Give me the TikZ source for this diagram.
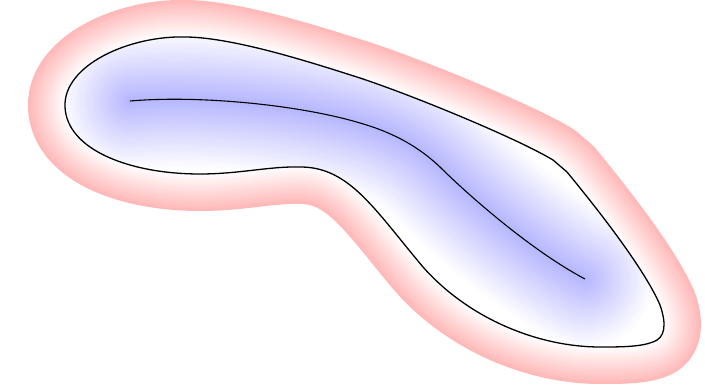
\documentclass[tikz,border=0pt]{standalone}
\begin{document}
\begin{tikzpicture}[x=1pt,y=-1pt]
\useasboundingbox (0,0) rectangle (705,387);
\def\bnd{(65,107) .. controls (63,65) and (130,35) .. (187,37)
  .. controls (235,38) and (310,62) .. (360,78)
  .. controls (420,98) and (520,140) .. (553,160)
  -- (567,172)
  .. controls (600,212) and (645,270) .. (660,305)
  .. controls (667,325) and (665,338) .. (653,342)
  .. controls (640,347) and (620,347) .. (600,347)
  .. controls (540,347) and (470,320) .. (423,267)
  .. controls (375,210) and (350,168) .. (302,167)
  .. controls (270,166) and (240,174) .. (200,174)
  .. controls (130,174) and (67,150) .. (65,107) -- cycle}
\def\spn{(130,101) .. controls (200,95) and (300,105) .. (360,123)
  .. controls (395,133) and (420,148) .. (440,167)
  .. controls (465,192) and (530,250) .. (585,279)}
% red glow
\foreach \i in {0,...,30}{
  \pgfmathsetmacro\w{2*(37-\i*37/30)}
  \pgfmathsetmacro\c{28*(1-\i/30)}
  \draw[line width=\w pt, red!\c!white, line join=round] \bnd;
}
\fill[white] \bnd;
% blue interior
\begin{scope}
  \clip \bnd;
  \foreach \i in {0,...,40}{
    \pgfmathsetmacro\w{2*(70-\i*68/40)}
    \pgfmathsetmacro\c{28*(\i/40)}
    \draw[line width=\w pt, blue!\c!white, line cap=round, line join=round] \spn;
  }
\end{scope}
\draw[line width=1.3pt, line join=round] \bnd;
\draw[line width=1.1pt] \spn;
\end{tikzpicture}
\end{document}
